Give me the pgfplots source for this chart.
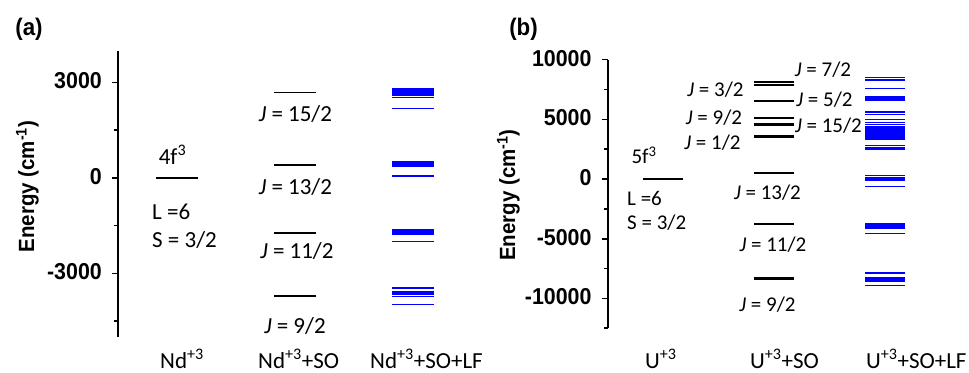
\documentclass[border=0pt]{standalone}
\usepackage{fontspec}
\setmainfont{Carlito}
\newfontfamily\arb{Liberation Sans}[FakeStretch=0.93]
\usepackage{pgfplots}
\pgfplotsset{compat=1.18}
\begin{document}
\begin{tikzpicture}
\path[use as bounding box] (0,0) rectangle (969bp,373bp);
\pgfplotsset{
  levelaxis/.style={scale only axis, axis x line=none, axis y line*=left,
    xmin=0.5, tick align=outside, major tick length=6bp, minor tick length=3.5bp,
    axis line style={line width=1.8bp, black},
    tick style={black, line width=1.6bp},
    yticklabel style={font=\arb\bfseries\fontsize{23bp}{25bp}\selectfont, inner sep=0pt, xshift=-10bp, yshift=1.5bp},
    scaled y ticks=false, clip=false, anchor=south west},
  lev/.style={only marks, mark=-, mark size=#1},
}
% ---------------- panel (a)
\begin{axis}[levelaxis, at={(118bp,36bp)}, width=365.8bp, height=286.5bp,
  xmax=3.6, ymin=-5000, ymax=4000,
  ytick={-3000,0,3000}, yticklabels={-3000,0,3000}, minor ytick={-4500,-1500,1500}]
\addplot[black, lev=21bp, mark options={line width=1.8bp}] table[row sep=\\] {
x y\\ 1 0\\ 2 2680\\ 2 408\\ 2 -1738\\ 2 -3717\\
};
\addplot[blue, lev=21bp, mark options={line width=1.5bp}] table[row sep=\\] {
x y\\ 3 2795\\ 3 2745\\ 3 2695\\ 3 2645\\ 3 2600\\ 3 2520\\ 3 2180\\
3 510\\ 3 460\\ 3 410\\ 3 360\\ 3 50\\
3 -1625\\ 3 -1670\\ 3 -1720\\ 3 -1765\\ 3 -2000\\
3 -3460\\ 3 -3590\\ 3 -3650\\ 3 -3730\\ 3 -3975\\
};
\end{axis}
% ---------------- panel (b)
\begin{axis}[levelaxis, at={(607.7bp,44.7bp)}, width=361.9bp, height=268.6bp,
  xmax=3.76, ymin=-12500, ymax=10000,
  ytick={-10000,-5000,0,5000,10000}, yticklabels={-10000,-5000,0,5000,10000},
  minor ytick={-12500,-7500,-2500,2500,7500}]
\addplot[black, lev=19.8bp, mark options={line width=2.2bp}] table[row sep=\\] {
x y\\ 1 0\\ 2 6558\\ 2 3568\\ 2 528\\ 2 -3770\\ 2 -8325\\
};
\addplot[black, lev=20bp, mark options={line width=2.6bp}] table[row sep=\\] {
x y\\ 2 8124\\ 2 7873\\ 2 5109\\ 2 4548\\
};
\addplot[blue, lev=20bp, mark options={line width=1.5bp}] table[row sep=\\] {
x y\\ 3 8500\\ 3 8300\\ 3 7590\\ 3 6860\\ 3 6720\\ 3 6570\\ 3 5600\\ 3 5420\\ 3 4980\\
3 4740\\ 3 4580\\ 3 4420\\ 3 4260\\ 3 4100\\ 3 3940\\ 3 3780\\ 3 3620\\ 3 3460\\ 3 3300\\
3 2800\\ 3 2640\\ 3 2500\\
3 290\\ 3 150\\ 3 10\\ 3 -130\\ 3 -640\\
3 -3780\\ 3 -3920\\ 3 -4060\\ 3 -4160\\ 3 -4560\\
3 -7860\\ 3 -8280\\ 3 -8420\\ 3 -8540\\ 3 -8900\\
};
\end{axis}
% ---------------- texts
\tikzset{t/.style={inner sep=0pt, font=\fontsize{23bp}{26bp}\selectfont},
         tb/.style={inner sep=0pt, font=\fontsize{21bp}{24bp}\selectfont},
         hb/.style={inner sep=0pt, font=\arb\bfseries\fontsize{22bp}{24bp}\selectfont}}
\node[hb, font=\arb\bfseries\fontsize{24bp}{28bp}\selectfont] at (29bp,344bp) {(a)};
\node[hb, font=\arb\bfseries\fontsize{24bp}{28bp}\selectfont] at (523.5bp,344bp) {(b)};
\node[hb, rotate=90] at (27.5bp,186.5bp) {Energy (cm\textsuperscript{-1})};
\node[hb, rotate=90] at (508.5bp,178bp) {Energy (cm\textsuperscript{-1})};
% (a)
\node[t] at (172.5bp,218.5bp) {4f\textsuperscript{3}};
\node[t, anchor=west] at (152bp,161.5bp) {L =6};
\node[t, anchor=west] at (152bp,133bp) {S = 3/2};
\node[t] at (295.5bp,258.5bp) {\textit{J} = 15/2};
\node[t] at (295.5bp,185.5bp) {\textit{J} = 13/2};
\node[t] at (297bp,122bp) {\textit{J} = 11/2};
\node[t] at (295bp,47bp) {\textit{J} = 9/2};
\node[t, anchor=base west] at (160bp,4.5bp) {Nd\textsuperscript{+3}};
\node[t, anchor=base west] at (258bp,4.5bp) {Nd\textsuperscript{+3}+SO};
\node[t, anchor=base west] at (370bp,4.5bp) {Nd\textsuperscript{+3}+SO+LF};
% (b)
\node[tb] at (644bp,217.5bp) {5f\textsuperscript{3}};
\node[tb, anchor=west] at (627bp,175bp) {L =6};
\node[tb, anchor=west] at (627bp,150bp) {S = 3/2};
\node[tb] at (715.5bp,283.5bp) {\textit{J} = 3/2};
\node[tb] at (714bp,255.5bp) {\textit{J} = 9/2};
\node[tb] at (712.5bp,230.5bp) {\textit{J} = 1/2};
\node[tb] at (823bp,303bp) {\textit{J} = 7/2};
\node[tb] at (824.5bp,273bp) {\textit{J} = 5/2};
\node[tb] at (828.5bp,247.5bp) {\textit{J} = 15/2};
\node[tb] at (767.5bp,180.5bp) {\textit{J} = 13/2};
\node[tb] at (773bp,128.5bp) {\textit{J} = 11/2};
\node[tb] at (767.5bp,68.5bp) {\textit{J} = 9/2};
\node[t, anchor=base west] at (645bp,4.5bp) {U\textsuperscript{+3}};
\node[t, anchor=base west] at (750bp,4.5bp) {U\textsuperscript{+3}+SO};
\node[t, anchor=base west] at (866bp,4.5bp) {U\textsuperscript{+3}+SO+LF};
\end{tikzpicture}
\end{document}
